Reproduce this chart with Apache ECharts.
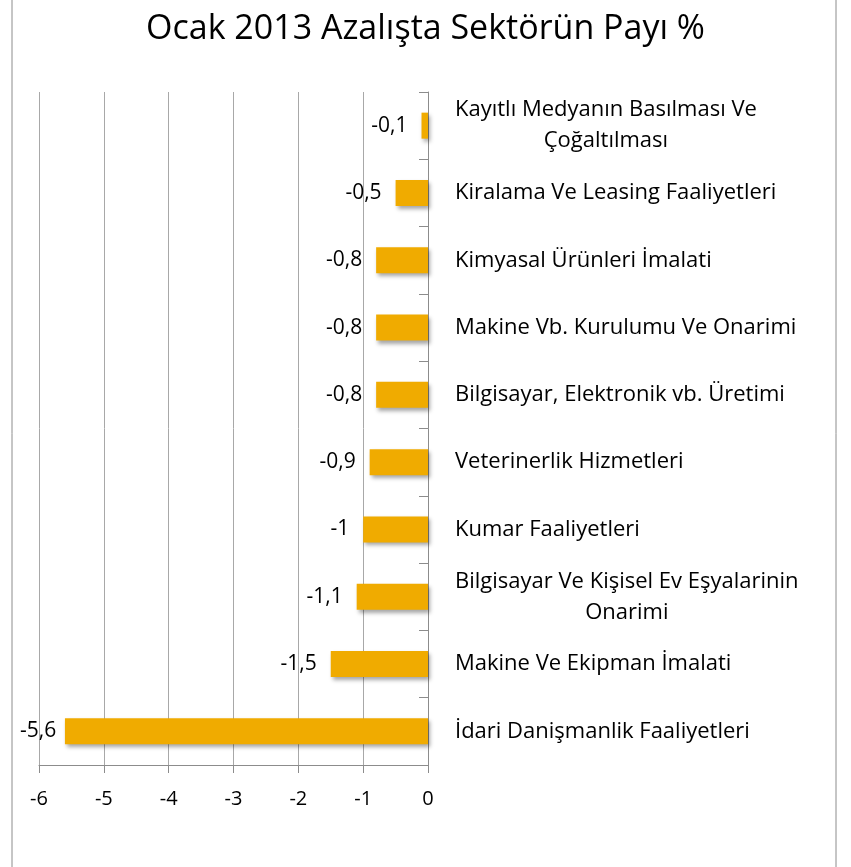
<!DOCTYPE html>
<html>
<head>
<meta charset="utf-8">
<script src="https://cdn.jsdelivr.net/npm/echarts@6/dist/echarts.min.js"></script>
<style>
  html, body { margin: 0; padding: 0; background: #fff; }
  #chart { width: 851px; height: 867px; }
</style>
</head>
<body>
<div id="chart"></div>
<script>
// sektörler, yukarıdan aşağıya
const categories = [
  'Kayıtlı Medyanın Basılması Ve\nÇoğaltılması',
  'Kiralama Ve Leasing Faaliyetleri',
  'Kimyasal Ürünleri İmalati',
  'Makine Vb. Kurulumu Ve Onarimi',
  'Bilgisayar, Elektronik vb. Üretimi',
  'Veterinerlik Hizmetleri',
  'Kumar Faaliyetleri',
  'Bilgisayar Ve Kişisel Ev Eşyalarinin\nOnarimi',
  'Makine Ve Ekipman İmalati',
  'İdari Danişmanlik Faaliyetleri'
]
const values = [-0.1, -0.5, -0.8, -0.8, -0.8, -0.9, -1, -1.1, -1.5, -5.6]
const xTicks = [-6, -5, -4, -3, -2, -1, 0]

const FONT = '"Open Sans", "Noto Sans", sans-serif'
const BAR_COLOR = '#F0AB00'

const myChart = echarts.init(document.getElementById('chart'))

const option = {
  animation: false,
  title: {
    text: 'Ocak 2013 Azalışta Sektörün Payı %',
    left: 'center',
    top: 7,
    textStyle: { fontFamily: FONT, fontSize: 34, fontWeight: 'normal', color: '#000' }
  },
  graphic: [{
    type: 'rect',
    shape: { x: 12, y: -5, width: 824, height: 880 },
    style: { fill: 'none', stroke: '#8c8c8c', lineWidth: 1 },
    silent: true
  }],
  grid: { left: 39, right: 423, top: 92, bottom: 102 },
  xAxis: {
    type: 'value',
    min: xTicks[0],
    max: xTicks[xTicks.length - 1],
    interval: 1,
    axisLine: { show: true, lineStyle: { color: '#8c8c8c' } },
    axisTick: { show: true, length: 8, lineStyle: { color: '#8c8c8c' } },
    axisLabel: {
      margin: 24,
      fontFamily: FONT,
      fontSize: 20,
      color: '#000'
    },
    splitLine: { show: true, lineStyle: { color: '#a8a8a8' } }
  },
  yAxis: {
    type: 'category',
    data: categories,
    inverse: true,
    position: 'right',
    axisLine: { show: true, onZero: false, lineStyle: { color: '#8c8c8c' } },
    axisTick: { show: true, inside: true, length: 9, lineStyle: { color: '#8c8c8c' } },
    axisLabel: {
      margin: 27,
      align: 'left',
      formatter: (v) => v.split('\n').map(s => '{c|' + s + '}').join('\n'),
      rich: {
        c: { align: 'center', fontFamily: FONT, fontSize: 22, color: '#000', lineHeight: 31 }
      }
    }
  },
  series: [{
    type: 'bar',
    data: values,
    barWidth: 26,
    itemStyle: {
      color: BAR_COLOR,
      shadowColor: 'rgba(0,0,0,0.35)',
      shadowBlur: 4,
      shadowOffsetX: 2,
      shadowOffsetY: 3
    },
    label: {
      show: true,
      position: 'left',
      distance: 14,
      fontFamily: FONT,
      fontSize: 21,
      color: '#000',
      formatter: (p) => String(p.value).replace('.', ',')
    },
    // etiket çerçevenin dışına taşmasın
    labelLayout: (params) => {
      const r = params.labelRect
      if (r.x < 20) return { x: 20 + r.width, y: r.y + r.height / 2, align: 'right', verticalAlign: 'middle' }
      return {}
    }
  }]
}

myChart.setOption(option)
</script>
</body>
</html>
